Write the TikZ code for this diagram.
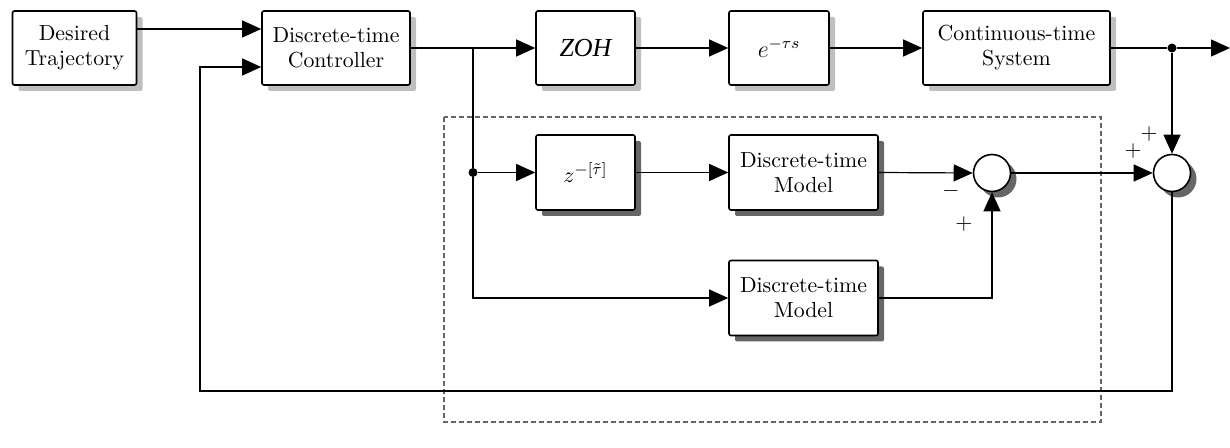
\documentclass[tikz,border=0pt]{standalone}
\usepackage{fontspec}
\newfontfamily\tms{Liberation Serif}
\usetikzlibrary{shadows,arrows.meta,calc}
\begin{document}
\begin{tikzpicture}[x=0.5pt,y=-0.5pt,
  blk/.style={draw, line width=0.8pt, rounded corners=1pt, fill=white, minimum height=37pt,
    align=center, inner sep=0pt, font=\fontsize{10.9}{12.5}\selectfont},
  lightsh/.style={drop shadow={shadow xshift=3pt, shadow yshift=-3pt, fill=black!25, opacity=1}},
  darksh/.style={drop shadow={shadow xshift=3pt, shadow yshift=-3pt, fill=black!60, opacity=1}},
  sumnode/.style={circle, draw, line width=0.8pt, fill=white, minimum size=18.5pt, inner sep=0pt, darksh},
  arr/.style={line width=0.6pt, -{Triangle[length=9.5pt,width=8.5pt]}},
  ln/.style={line width=0.6pt},
  dot/.style={circle, fill=black, inner sep=0pt, minimum size=4.5pt},
  sgn/.style={font=\fontsize{11}{13}\selectfont, inner sep=0pt}]
\useasboundingbox (0,0) rectangle (1230,448);
% dashed frame
\draw[black!60, line width=0.8pt, dash pattern=on 2.5pt off 1.5pt] (444,117) rectangle (1101,422);
% top row
\node[blk, lightsh, minimum width=62pt] (des) at (74.5,48) {Desired\\Trajectory};
\node[blk, lightsh, minimum width=74pt] (ctrl) at (336,48) {Discrete-time\\Controller};
\node[blk, lightsh, minimum width=49.5pt, font=\fontsize{13}{15}\selectfont] (zoh) at (585.5,48) {\tms\itshape ZOH};
\node[blk, lightsh, minimum width=50pt, font=\fontsize{12}{14}\selectfont] (dly) at (779,48) {$e^{-\tau s}$};
\node[blk, lightsh, minimum width=93.5pt] (sys) at (1016.5,48) {Continuous-time\\System};
% inner blocks
\node[blk, darksh, minimum width=49.5pt, minimum height=37.5pt] (zd) at (585.5,172.5) {$z^{-[\tilde{\tau}]}$};
\node[blk, darksh, minimum width=74.5pt, minimum height=37.5pt] (m1) at (803.5,172.5) {Discrete-time\\Model};
\node[blk, darksh, minimum width=74.5pt, minimum height=37.5pt] (m2) at (803.5,298) {Discrete-time\\Model};
\node[sumnode] (s1) at (992,173) {};
\node[sumnode] (s2) at (1172,173) {};
% junctions
\coordinate (j1) at (473,48);
\node[dot] (j3) at (473,172.5) {};
\node[dot] (j2) at (1172,48) {};
\coordinate (out) at (1230,48);
\coordinate (fb1) at (1172,391);
\coordinate (fb2) at (200,391);
\coordinate (cin1) at ($(ctrl.west)+(0,-19)$);
\coordinate (cin2) at ($(ctrl.west)+(0,19)$);
% connectors
\draw[arr] (des.east |- cin1) -- (cin1);
\draw[arr] (ctrl.east) -- (zoh.west);
\draw[arr] (zoh.east) -- (dly.west);
\draw[arr] (dly.east) -- (sys.west);
\draw[ln] (sys.east) -- (j2);
\draw[arr] (j2) -- (out);
\draw[arr] (j2) -- (s2.north);
\draw[ln] (j1) -- (j3);
\draw[arr] (j3) -- (zd.west);
\draw[arr] (j3) |- (m2.west);
\draw[arr] (zd.east) -- (m1.west);
\draw[arr] (m1.east) -- (s1.west);
\draw[arr] (m2.east) -| (s1.south);
\draw[arr] (s1.east) -- (s2.west);
\draw[arr] (s2.south) -- (fb1) -- (fb2) |- (cin2);
% signs
\node[sgn] at (1149,134) {$+$};
\node[sgn] at (1133,151) {$+$};
\node[sgn] at (951,191) {$-$};
\node[sgn] at (964,224) {$+$};
\end{tikzpicture}
\end{document}
